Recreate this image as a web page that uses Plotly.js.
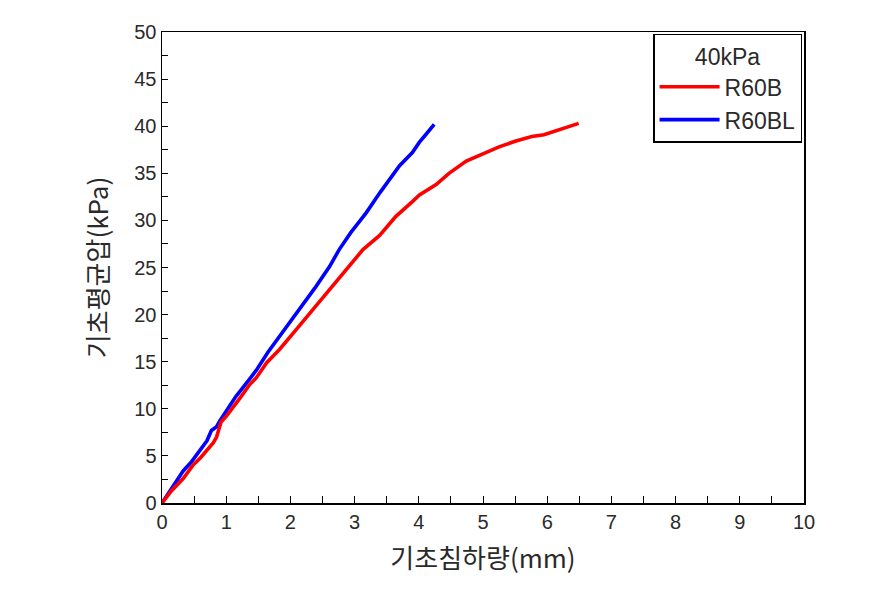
<!DOCTYPE html>
<html>
<head>
<meta charset="utf-8">
<script src="https://cdn.plot.ly/plotly-3.0.1.min.js"></script>
<style>html,body{margin:0;padding:0;background:#fff;}#chart{width:891px;height:608px;}</style>
</head>
<body>
<div id="chart"></div>
<script>
// R60B (red)
const redX = [0, 0.15, 0.33, 0.48, 0.60, 0.70, 0.80, 0.85, 0.88, 0.92, 1.00, 1.06, 1.20, 1.37, 1.47, 1.63, 1.83, 2.09, 2.35, 2.61, 2.87, 3.13, 3.39, 3.64, 3.90, 4.01, 4.27, 4.47, 4.74, 5.00, 5.25, 5.50, 5.76, 5.95, 6.13, 6.30, 6.40, 6.49];
const redY = [0, 1.3, 2.6, 4.0, 4.8, 5.6, 6.4, 7.0, 7.8, 8.6, 9.2, 9.7, 11.0, 12.6, 13.3, 14.9, 16.3, 18.4, 20.5, 22.7, 24.8, 26.9, 28.4, 30.4, 32.0, 32.7, 33.8, 35.0, 36.3, 37.1, 37.8, 38.4, 38.9, 39.1, 39.5, 39.9, 40.2, 40.3];
// R60BL (blue)
const blueX = [0, 0.15, 0.33, 0.45, 0.59, 0.70, 0.77, 0.85, 0.90, 1.00, 1.15, 1.37, 1.47, 1.65, 1.83, 2.14, 2.40, 2.61, 2.76, 2.94, 3.18, 3.39, 3.59, 3.70, 3.90, 4.01, 4.12, 4.24];
const blueY = [0, 1.5, 3.4, 4.3, 5.6, 6.6, 7.7, 8.1, 8.7, 9.8, 11.3, 13.2, 14.1, 16.0, 17.7, 20.5, 23.0, 25.1, 26.9, 28.7, 30.8, 32.9, 34.8, 35.8, 37.2, 38.3, 39.2, 40.2];

const seriesNames = ['R60B', 'R60BL'];
const legendTitle = '40kPa';
const xTitle = '기초침하량(mm)';
const yTitle = '기초평균압(kPa)';

const font = '"Liberation Sans", "Noto Sans CJK KR", sans-serif';
const krFont = '"Noto Sans CJK KR", sans-serif';
const textColor = '#2a2a2a';

const traces = [
  {x: blueX, y: blueY, name: seriesNames[1], mode: 'lines', legendrank: 2,
   line: {color: '#0000ff', width: 3.6}},
  {x: redX, y: redY, name: seriesNames[0], mode: 'lines', legendrank: 1,
   line: {color: '#ff0000', width: 3.6}}
];

const axisCommon = {
  showgrid: false, zeroline: false, showline: true, mirror: true,
  linecolor: '#000', linewidth: 1.5, ticks: 'inside', tickcolor: '#000',
  tickfont: {family: font, size: 20, color: textColor}
};

const layout = {
  width: 891, height: 608,
  margin: {l: 162, r: 87, t: 32, b: 105},
  paper_bgcolor: '#fff', plot_bgcolor: '#fff',
  font: {family: font, color: textColor},
  xaxis: Object.assign({}, axisCommon, {
    range: [0, 10], dtick: 1, tick0: 0, ticklen: 7,
    minor: {dtick: 0.5, ticks: 'inside', ticklen: 7, tickcolor: '#000', showgrid: false},
    title: {text: xTitle, font: {family: krFont, size: 26, color: textColor}, standoff: 18}
  }),
  yaxis: Object.assign({}, axisCommon, {
    range: [0, 50], dtick: 5, tick0: 0, ticklen: 6,
    minor: {dtick: 2.5, ticks: 'inside', ticklen: 6, tickcolor: '#000', showgrid: false},
    title: {text: yTitle, font: {family: krFont, size: 26, color: textColor}, standoff: 18}
  }),
  showlegend: true,
  legend: {
    x: 0.997, xanchor: 'right', y: 0.996, yanchor: 'top',
    bordercolor: '#000', borderwidth: 1.5, bgcolor: '#fff',
    font: {family: font, size: 23, color: textColor},
    title: {text: legendTitle, side: 'top center', font: {family: font, size: 23, color: textColor}},
    itemwidth: 60, tracegroupgap: 0
  }
};

Plotly.newPlot('chart', traces, layout, {displayModeBar: false, staticPlot: true});
</script>
</body>
</html>
